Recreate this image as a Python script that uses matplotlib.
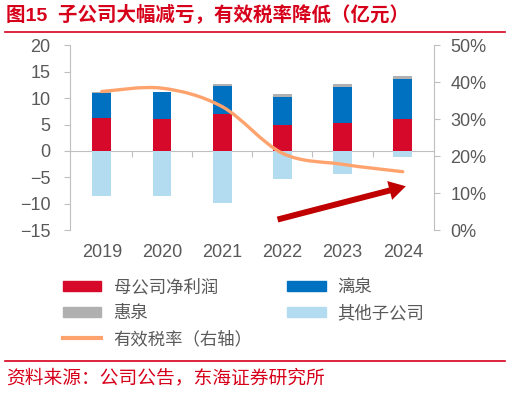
import numpy as np
import matplotlib.pyplot as plt
from matplotlib.path import Path
from matplotlib.patches import PathPatch, Patch
from matplotlib.lines import Line2D
from matplotlib.ticker import FuncFormatter

plt.rcParams['font.family'] = ['Liberation Sans', 'Noto Sans CJK SC']

years = ['2019', '2020', '2021', '2022', '2023', '2024']
parent_profit = [6.3, 6.0, 6.9, 4.9, 5.2, 5.95]     # 母公司净利润
liquan = [4.7, 5.1, 5.4, 5.35, 6.95, 7.65]          # 漓泉
huiquan = [0.15, 0.1, 0.35, 0.45, 0.5, 0.6]         # 惠泉
others = [-8.5, -8.6, -9.9, -5.3, -4.3, -1.1]       # 其他子公司
tax_rate = [37.5, 38.4, 33.4, 20.8, 17.8, 15.8]     # 有效税率 (%)

RED = '#D7092A'
BLUE = '#0070C0'
GREY = '#B0B0B0'
LIGHT = '#B4DCF0'
ORANGE = '#FFA36E'
SPINE = '#BFBFBF'
TXT = '#595959'


def smooth_path(xs, ys):
    # excel-like smoothed line: bezier segments through the points
    pts = list(zip(xs, ys))
    n = len(pts)
    verts = [pts[0]]
    codes = [Path.MOVETO]
    for i in range(n - 1):
        p0 = np.array(pts[max(i - 1, 0)])
        p1 = np.array(pts[i])
        p2 = np.array(pts[i + 1])
        p3 = np.array(pts[min(i + 2, n - 1)])
        c1 = p1 + (p2 - p0) / 6
        c2 = p2 - (p3 - p1) / 6
        verts += [tuple(c1), tuple(c2), tuple(p2)]
        codes += [Path.CURVE4] * 3
    return Path(verts, codes)


fig = plt.figure(figsize=(5.1, 3.94), dpi=100)
ax = fig.add_axes([0.137, 0.416, 0.713, 0.469])
x = np.arange(len(years))
w = 0.31

bottom2 = np.array(parent_profit) + np.array(liquan)
ax.bar(x, parent_profit, w, color=RED, zorder=2)
ax.bar(x, liquan, w, bottom=parent_profit, color=BLUE, zorder=2)
ax.bar(x, huiquan, w, bottom=bottom2, color=GREY, zorder=2)
ax.bar(x, others, w, color=LIGHT, zorder=2)

ax.set_xlim(-0.53, 5.51)
ax.set_ylim(-15, 20)
ax.set_yticks(range(-15, 21, 5))
ax.set_xticks(x)
ax.set_xticklabels(years)
ax.tick_params(axis='x', length=0, pad=10, labelsize=13, colors=TXT)
ax.tick_params(axis='y', length=4, pad=10, labelsize=13, colors=TXT, color=SPINE)
for s in ['top', 'bottom', 'right']:
    ax.spines[s].set_visible(False)
ax.spines['left'].set_color(SPINE)

# zero line with category separators
zero = ax.secondary_xaxis(15 / 35)
zero.set_xticks(np.arange(0.5, 5.0, 1.0))
zero.tick_params(axis='x', direction='out', length=4, color=SPINE, labelbottom=False, labeltop=False)
zero.spines['bottom'].set_color(SPINE)
zero.spines['top'].set_visible(False)

ax2 = ax.twinx()
ax2.set_ylim(0, 50)
ax2.set_yticks(range(0, 51, 10))
ax2.yaxis.set_major_formatter(FuncFormatter(lambda v, p: '{:.0f}%'.format(v)))
ax2.tick_params(axis='y', length=4, pad=8, labelsize=13, colors=TXT, color=SPINE)
for s in ['top', 'bottom', 'left']:
    ax2.spines[s].set_visible(False)
ax2.spines['right'].set_color(SPINE)
ax2.add_patch(PathPatch(smooth_path(x, tax_rate), facecolor='none',
                        edgecolor=ORANGE, lw=2.4, capstyle='round', zorder=3))

ax.annotate('', xy=(5.05, -6.7), xytext=(2.92, -13.0),
            arrowprops=dict(arrowstyle='simple,head_length=12,head_width=14,tail_width=4.3',
                            mutation_scale=1, color='#C00000', lw=0, shrinkA=0, shrinkB=0),
            zorder=5)

handles = [
    Patch(color=RED, label='母公司净利润'),
    Patch(color=GREY, label='惠泉'),
    Line2D([], [], color=ORANGE, lw=3, label='有效税率（右轴）'),
    Patch(color=BLUE, label='漓泉'),
    Patch(color=LIGHT, label='其他子公司'),
]
fig.legend(handles=handles, ncol=2, loc='upper left', bbox_to_anchor=(0.124, 0.293),
           frameon=False, fontsize=12.5, handlelength=2.2, handleheight=0.5,
           handletextpad=0.7, columnspacing=2.0, labelspacing=0.55,
           borderpad=0, borderaxespad=0, labelcolor=TXT)

fig.text(0.012, 0.963, '图15  子公司大幅减亏，有效税率降低（亿元）', color='#D7001A',
         fontsize=14, fontweight='bold', va='center', ha='left')
fig.add_artist(Line2D([0.01, 0.99], [0.919, 0.919], color='#D7001A', lw=1.2))
fig.add_artist(Line2D([0.01, 0.99], [0.084, 0.084], color='#D7001A', lw=1.2))
fig.text(0.012, 0.041, '资料来源：公司公告，东海证券研究所', color='#D7001A',
         fontsize=13.5, va='center', ha='left')

plt.savefig('out.png', dpi=100)
